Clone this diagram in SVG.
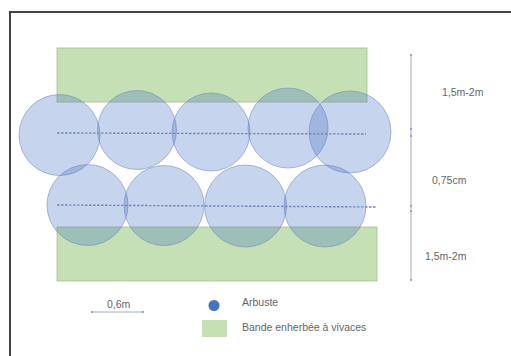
<svg xmlns="http://www.w3.org/2000/svg" width="511" height="356" viewBox="0 0 511 356">
<style>
.band{fill:#c5e0b4;stroke:#a4c190;stroke-width:0.8}
.shrub{fill:#4472c4;fill-opacity:0.3;stroke:#6f86bd;stroke-width:0.7;stroke-opacity:0.8}
.row{stroke:#7088bf;stroke-width:1.4;stroke-dasharray:2.5,1.5;fill:none}
.dim{stroke:#8a93b5;stroke-width:0.8;fill:none}
.tick{stroke:#7a84a8;stroke-width:1.2}
.lbl{font-family:"Liberation Sans",Arial,sans-serif;font-size:10.5px;fill:#666}
</style>
<defs>
<marker id="dot" viewBox="0 0 4 4" refX="2" refY="2" markerWidth="3" markerHeight="3"><circle cx="2" cy="2" r="1.5" fill="#7a84a8"/></marker>
</defs>
<rect width="511" height="356" fill="#fff"/>
<path d="M10,360 V12 H515" fill="none" stroke="#444" stroke-width="2"/>
<g id="band-top"><rect class="band" x="57" y="48" width="310" height="54"/></g>
<g id="band-bottom"><rect class="band" x="57" y="227" width="320" height="54"/></g>
<g id="shrubs-top">
<circle class="shrub" cx="59.5" cy="135" r="40.5"/>
<circle class="shrub" cx="137" cy="130" r="39.5"/>
<circle class="shrub" cx="211" cy="132" r="39"/>
<circle class="shrub" cx="288" cy="128" r="40"/>
<circle class="shrub" cx="350" cy="132" r="41"/>
</g>
<g id="shrubs-bottom">
<circle class="shrub" cx="87.5" cy="205" r="40.5"/>
<circle class="shrub" cx="164" cy="205.5" r="40"/>
<circle class="shrub" cx="245.5" cy="206" r="41"/>
<circle class="shrub" cx="325" cy="206" r="41"/>
</g>
<g id="connectors">
<line class="row" x1="57" y1="133" x2="366" y2="134"/>
<line class="row" x1="57" y1="205" x2="376" y2="207"/>
<line class="dim" x1="411" y1="55" x2="411" y2="280" marker-start="url(#dot)" marker-end="url(#dot)"/>
<line class="tick" x1="411" y1="128" x2="411" y2="130"/>
<line class="tick" x1="411" y1="135" x2="411" y2="137"/>
<line class="tick" x1="411" y1="205" x2="411" y2="207"/>
<line class="tick" x1="411" y1="210" x2="411" y2="212"/>
<line class="dim" x1="92" y1="312" x2="143" y2="312" marker-start="url(#dot)" marker-end="url(#dot)"/>
</g>
<g id="labels">
<text class="lbl" x="442" y="96">1,5m-2m</text>
<text class="lbl" x="432" y="184">0,75cm</text>
<text class="lbl" x="425" y="260">1,5m-2m</text>
<text class="lbl" x="107" y="308">0,6m</text>
</g>
<g id="legend-shrub">
<circle cx="214" cy="305.5" r="5.5" fill="#4472c4"/>
<text class="lbl" x="242" y="306">Arbuste</text>
</g>
<g id="legend-band">
<rect x="202" y="320" width="25" height="17" fill="#c5e0b4"/>
<text class="lbl" x="242" y="331">Bande enherbée à vivaces</text>
</g>
</svg>
